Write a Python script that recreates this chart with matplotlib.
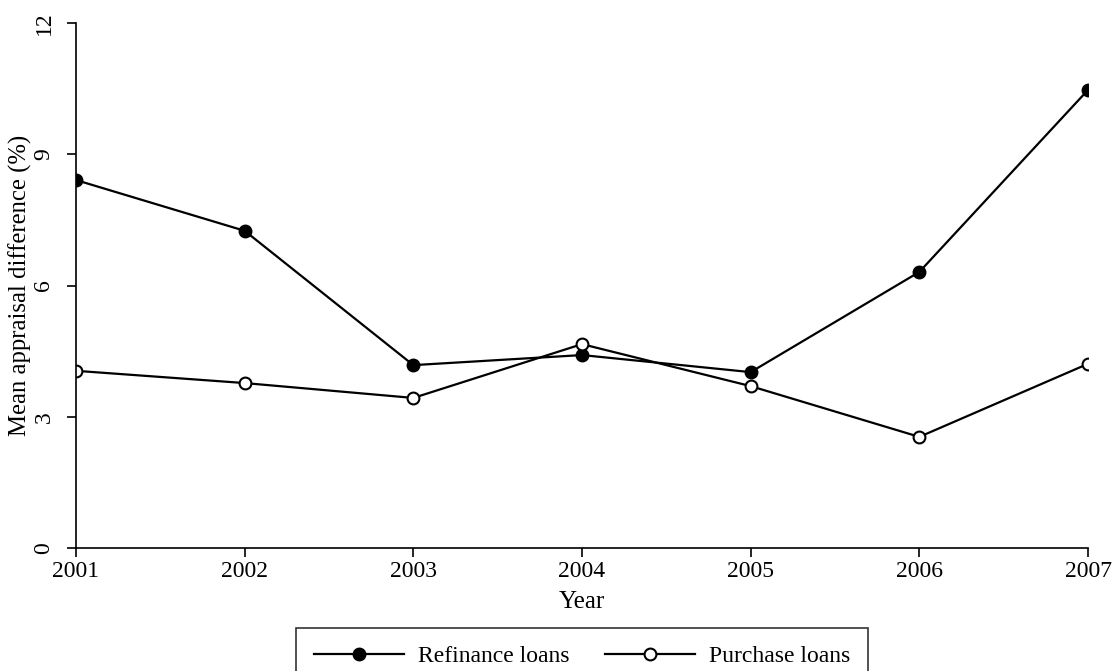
import numpy as np
import matplotlib
matplotlib.use("Agg")
import matplotlib.pyplot as plt

# mean appraisal difference by origination year
years = [2001, 2002, 2003, 2004, 2005, 2006, 2007]
refinance = [8.41, 7.25, 4.18, 4.41, 4.02, 6.31, 10.47]
purchase = [4.05, 3.77, 3.43, 4.66, 3.70, 2.54, 4.21]
y_ticks = [0, 3, 6, 9, 12]

plt.rcParams['font.family'] = ['Liberation Serif', 'DejaVu Serif']
plt.rcParams['font.size'] = 17

fig = plt.figure(figsize=(11.13, 6.71), dpi=100)
ax = fig.add_axes([76 / 1113, 1 - 548 / 671, (1088 - 76) / 1113, (548 - 23) / 671])

ax.plot(years, refinance, color='black', lw=1.6, marker='o', ms=9,
        mfc='black', mec='black', label='Refinance loans')
ax.plot(years, purchase, color='black', lw=1.6, marker='o', ms=8.5,
        mfc='white', mec='black', mew=1.5, label='Purchase loans')

ax.set_xlim(2001, 2007)
ax.set_ylim(0, 12)
ax.set_xticks(years)
ax.set_yticks(y_ticks)
ax.set_yticklabels([str(t) for t in y_ticks], rotation=90, va='center')
ax.tick_params(direction='out', length=6.5, width=1.2)
ax.tick_params(axis='x', pad=3)
ax.tick_params(axis='y', pad=9)

for side in ('top', 'right'):
    ax.spines[side].set_visible(False)
for side in ('left', 'bottom'):
    ax.spines[side].set_linewidth(1.2)

ax.set_xlabel('Year', fontsize=18, labelpad=6)
ax.set_ylabel('Mean appraisal difference (%)', fontsize=17.8, labelpad=1)

leg = fig.legend(loc='upper center', bbox_to_anchor=(582 / 1113, 1 - 628 / 671),
                 ncol=2, frameon=True, fancybox=False, edgecolor='black',
                 handlelength=3.8, handletextpad=0.6, columnspacing=1.5,
                 borderpad=0.75, borderaxespad=0)
leg.get_frame().set_linewidth(1.2)

fig.savefig('out.png', dpi=100)
